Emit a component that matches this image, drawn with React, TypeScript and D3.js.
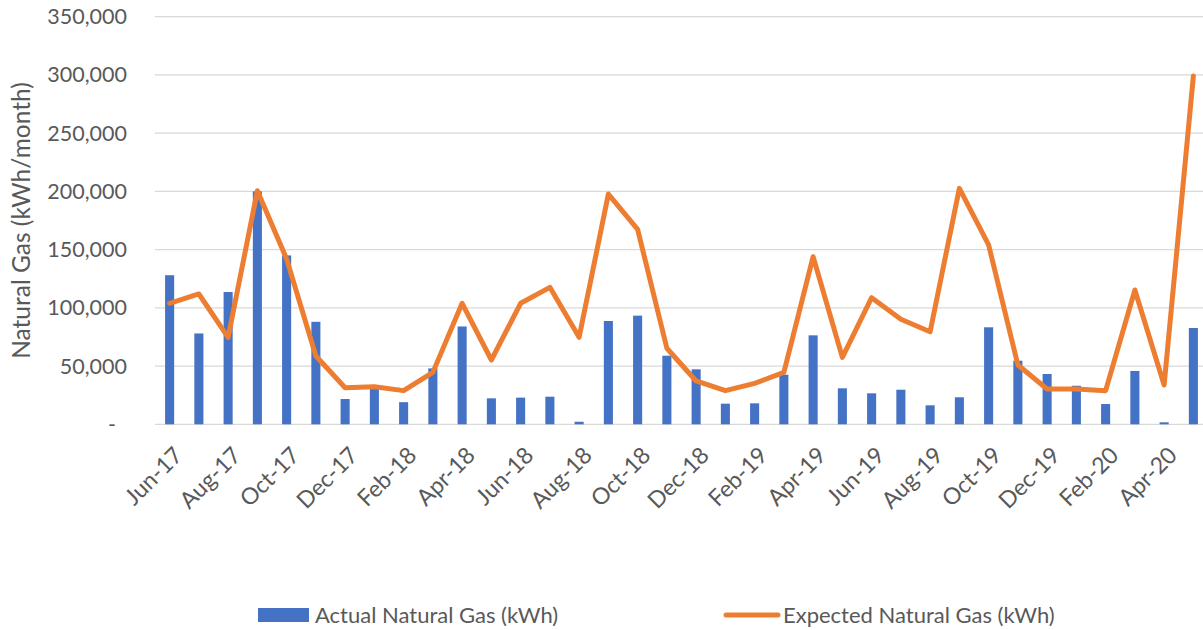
import React from "react";
import * as d3 from "d3";

const months = [
  "Jun-17","Jul-17","Aug-17","Sep-17","Oct-17","Nov-17","Dec-17","Jan-18","Feb-18","Mar-18","Apr-18","May-18",
  "Jun-18","Jul-18","Aug-18","Sep-18","Oct-18","Nov-18","Dec-18","Jan-19","Feb-19","Mar-19","Apr-19","May-19",
  "Jun-19","Jul-19","Aug-19","Sep-19","Oct-19","Nov-19","Dec-19","Jan-20","Feb-20","Mar-20","Apr-20","May-20",
];

const actual = [
  128000, 78000, 113600, 200000, 145000, 88000, 21700, 31000, 19000, 48000, 84000, 22300,
  22900, 23700, 2200, 88700, 93300, 58900, 47200, 17700, 18000, 42600, 76400, 30900,
  26600, 29700, 16300, 23200, 83300, 54600, 43200, 33100, 17400, 45800, 1700, 82700,
];

const expected = [
  103900, 111900, 74700, 200600, 142000, 58600, 31400, 32300, 28900, 44600, 103900, 55200,
  103900, 117600, 74700, 197700, 167400, 65300, 37200, 28900, 35200, 44600, 143900, 57500,
  108700, 90200, 79500, 202600, 154000, 50900, 30300, 30300, 28900, 115300, 33700, 299000,
];

const yTicks = [0, 50000, 100000, 150000, 200000, 250000, 300000, 350000];
const xLabels = months.filter((_, i) => i % 2 === 0);

const seriesNames = ["Actual Natural Gas (kWh)", "Expected Natural Gas (kWh)"];
const yTitle = "Natural Gas (kWh/month)";

export default function App() {
  const W = 1203, H = 630;
  const left = 155, right = 1208, top = 16.7, bottom = 424.3;
  const x = d3.scaleBand<string>().domain(months).range([left, right]).paddingInner(0.69).paddingOuter(0.345);
  const y = d3.scaleLinear().domain([0, 350000]).range([bottom, top]);
  const cx = (m: string) => (x(m) ?? 0) + x.bandwidth() / 2;
  const line = d3.line<number>().x((_, i) => cx(months[i])).y((d) => y(d));
  const fmt = d3.format(",");
  const font = "Lato, 'Open Sans', sans-serif";
  const txt = "#595959";

  return (
    <svg width={W} height={H} style={{ position: "absolute", left: 0, top: 0, background: "#fff" }} fontFamily={font}>
      {yTicks.map((t) => (
        <g key={t}>
          <line x1={left} x2={right} y1={y(t)} y2={y(t)} stroke="#D9D9D9" strokeWidth={1.3} />
          <text x={t === 0 ? 116 : 127} y={y(t)} dy="0.35em" textAnchor="end" fontSize={21.5} fill={txt}>
            {t === 0 ? "-" : fmt(t)}
          </text>
        </g>
      ))}
      <text transform={`translate(21,${(top + bottom) / 2}) rotate(-90)`} textAnchor="middle" dy="0.35em" fontSize={24.5} fill={txt}>
        {yTitle}
      </text>
      {actual.map((v, i) => (
        <rect key={i} x={x(months[i])} y={y(v)} width={x.bandwidth()} height={bottom - y(v)} fill="#4472C4" />
      ))}
      <path d={line(expected) ?? ""} fill="none" stroke="#ED7D31" strokeWidth={5} strokeLinejoin="round" strokeLinecap="round" />
      {xLabels.map((m) => (
        <text key={m} transform={`translate(${cx(m) + 3},${bottom + 21}) rotate(-45)`} textAnchor="end" dy="0.7em" fontSize={23} fill={txt}>
          {m}
        </text>
      ))}
      <rect x={258} y={608} width={51} height={14} fill="#4472C4" />
      <text x={315} y={615} dy="0.35em" fontSize={22} fill={txt}>{seriesNames[0]}</text>
      <line x1={726} x2={778} y1={615} y2={615} stroke="#ED7D31" strokeWidth={5} strokeLinecap="round" />
      <text x={783} y={615} dy="0.35em" fontSize={22} fill={txt}>{seriesNames[1]}</text>
    </svg>
  );
}
